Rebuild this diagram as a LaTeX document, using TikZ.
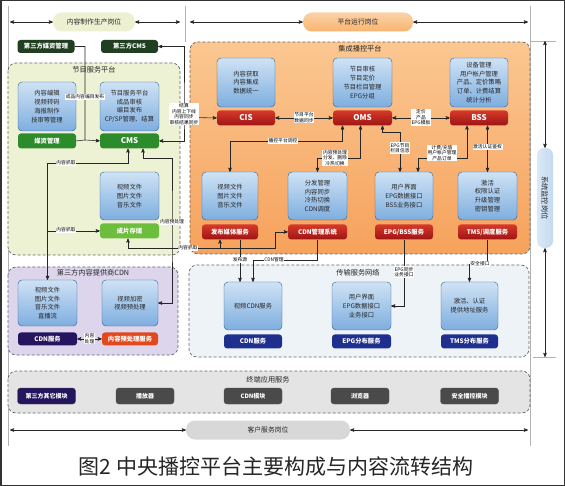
\documentclass[tikz,border=0pt]{standalone}
\usepackage{fontspec}
\setmainfont{Noto Sans CJK SC}
\usepackage{tikz}
\usetikzlibrary{positioning,arrows}

\definecolor{panelline}{HTML}{2F5C8A}
\definecolor{paneltop}{HTML}{CFE2F5}
\definecolor{panelbot}{HTML}{7EAEDF}
\definecolor{greenzone}{HTML}{EEF2D5}
\definecolor{purplezone}{HTML}{DCD5EC}
\definecolor{orangetop}{HTML}{FBC792}
\definecolor{orangebot}{HTML}{F6A25C}
\definecolor{netzone}{HTML}{EEF3F8}
\definecolor{termzone}{HTML}{E4E4E4}
\definecolor{prodpill}{HTML}{EEF0D2}
\definecolor{operpill}{HTML}{F8B46F}
\definecolor{custpill}{HTML}{D8D8D8}
\definecolor{monpill}{HTML}{C2DAF0}
\definecolor{deepgreen}{HTML}{1F3F20}
\definecolor{midgreen}{HTML}{2C8C2C}
\definecolor{litegreen}{HTML}{6DBE3C}
\definecolor{redtop}{HTML}{D63A2A}
\definecolor{redbot}{HTML}{9E1414}
\definecolor{netnavy}{HTML}{1F2F8E}
\definecolor{cdnnavy}{HTML}{24155E}
\definecolor{hotorange}{HTML}{E2481E}
\definecolor{modgray}{HTML}{4A4A4A}

\begin{document}
\begin{tikzpicture}[
% one unit is one pixel of the figure, y runs down
		x=1pt, y=-1pt,
% Box style
		panel/.style={rectangle
							    , rounded corners=4pt
							    , draw=panelline, thin
							    , top color=paneltop, bottom color=panelbot
							    , text=black!85
							    , minimum width=58pt
							    , minimum height=49pt
							    , inner sep=1pt
							    , align=center
							    , font=\fontsize{6.3}{8.8}\selectfont},
		tag/.style={rectangle
							    , rounded corners=3pt
							    , text=white
							    , minimum width=58pt
							    , minimum height=15pt
							    , inner sep=0pt
							    , font=\bfseries\fontsize{6.3}{7}\selectfont},
		redtag/.style={tag
							    , top color=redtop, bottom color=redbot},
		bigtag/.style={font=\bfseries\fontsize{8}{9}\selectfont},
		module/.style={rectangle
							    , rounded corners=3pt
							    , fill=modgray
							    , draw=black!70
							    , text=white
							    , minimum width=58pt
							    , minimum height=16pt
							    , inner sep=0pt
							    , font=\bfseries\fontsize{6}{7}\selectfont},
% Posts, zones and notes
		post/.style={rectangle
							    , rounded corners=9pt
							    , minimum height=19pt
							    , inner sep=0pt
							    , text=black!85
							    , font=\fontsize{6.8}{7}\selectfont},
		zone/.style={draw=black!60
							    , dash pattern=on 3pt off 2pt
							    , line width=0.7pt
							    , rounded corners=8pt},
		zonetitle/.style={inner sep=0pt
							    , text=black!85
							    , font=\fontsize{7.2}{8}\selectfont},
		note/.style={fill=white
							    , inner sep=0.6pt
							    , align=center
							    , text=black
							    , font=\fontsize{4.8}{5.6}\selectfont},
% Lines
		link/.style={draw=black!85, line width=0.55pt, >=stealth'},
		guide/.style={draw=black!30, line width=0.5pt}
	]
\useasboundingbox (0,0) rectangle (565,486);

%% Guides and zones
	\draw [guide] (8,6) -- (8,446);
	\draw [guide] (185,6) -- (185,42);
	\draw [guide] (530,6) -- (530,446);
	\draw [guide] (530,41) -- (556,41);
	\draw [guide] (533,357) -- (556,357);

	\draw [zone, fill=greenzone] (8,63) rectangle (180,255);
	\draw [zone, fill=purplezone] (8,267) rectangle (178,355);
	\draw [zone, top color=orangetop, bottom color=orangebot] (190,42) rectangle (530,254);
	\draw [zone, fill=netzone] (189,265) rectangle (529,357);
	\draw [zone, fill=termzone] (8,371) rectangle (530,413);

	\node [zonetitle] (tprog) at (94,70) {节目服务平台};
	\node [zonetitle] (tthird) at (93,273) {第三方内容提供商CDN};
	\node [zonetitle] (tplat) at (360,49) {集成播控平台};
	\node [zonetitle] (tnet) at (358,273) {传输服务网络};
	\node [zonetitle] (tterm) at (268,380) {终端应用服务};

%% Posts
	\node [post, fill=prodpill, minimum width=82pt] (prod) at (94,22) {内容制作生产岗位};
	\node [post, top color=operpill!60, bottom color=operpill, minimum width=110pt] (oper) at (358,22) {平台运行岗位};
	\node [post, fill=custpill, minimum width=164pt] (cust) at (268,430) {客户服务岗位};
	\node [post, left color=monpill!60, right color=monpill, rotate=-90, minimum width=100pt, minimum height=16pt, rounded corners=7pt, font=\fontsize{7.2}{8}\selectfont] (mon) at (545,198) {系统监控岗位};

	\coordinate (pL) at (10,22);
	\coordinate (pM1) at (180,22);
	\coordinate (pM2) at (190,22);
	\coordinate (pR) at (528,22);
	\coordinate (cL) at (10,430);
	\coordinate (cR) at (528,430);
	\coordinate (mT) at (545,41);
	\coordinate (mB) at (545,357);
	\draw [link, <->] (pL) -- (prod);
	\draw [link, <->] (prod) -- (pM1);
	\draw [link, <->] (pM2) -- (oper);
	\draw [link, <->] (oper) -- (pR);
	\draw [link, <->] (cL) -- (cust);
	\draw [link, <->] (cust) -- (cR);
	\draw [link, <->] (mT) -- (mon);
	\draw [link, <->] (mon) -- (mB);

%% Programme service platform
	\node [tag, fill=deepgreen, minimum width=57pt, minimum height=13pt] (tmedia) at (46,46.5) {第三方媒资管理};
	\node [tag, fill=deepgreen, minimum width=57pt, minimum height=13pt] (tcms) at (129.5,46.5) {第三方CMS};
	\node [panel] (edit) at (47,106.5) {内容编辑\\视频转码\\海报制作\\技审等管理};
	\node [tag, fill=midgreen, below=2pt of edit] (media) {媒资管理};
	\node [panel, minimum width=59pt] (cmsb) at (129.5,106.5) {节目服务平台\\成品审核\\编目发布\\CP/SP管理、结算};
	\node [tag, bigtag, fill=midgreen, minimum width=59pt, below=2pt of cmsb] (cms) {CMS};
	\node [panel, minimum width=59pt, minimum height=48pt] (film) at (129.5,196) {视频文件\\图片文件\\音乐文件};
	\node [tag, fill=litegreen, minimum width=59pt, below=3pt of film] (store) {成片存储};

%% Third party CDN
	\node [panel, minimum width=59pt, minimum height=46pt] (cdnfile) at (47.5,303) {视频文件\\图片文件\\音乐文件\\直播流};
	\node [tag, fill=cdnnavy, minimum width=59pt, minimum height=13pt, below=6pt of cdnfile] (cdnsvc) {CDN服务};
	\node [panel, minimum width=56pt, minimum height=46pt] (crypt) at (130,303) {视频加密\\视频预处理};
	\node [tag, fill=hotorange, minimum width=56pt, minimum height=13pt, below=6pt of crypt] (prep) {内容预处理服务};

%% Integrated platform
	\node [panel] (cisb) at (246,82.5) {内容获取\\内容集成\\数据统一};
	\node [redtag, bigtag, below=3pt of cisb] (cis) {CIS};
	\node [panel, minimum width=59pt] (omsb) at (362.5,82.5) {节目审核\\节目定价\\节目栏目管理\\EPG分组};
	\node [redtag, bigtag, minimum width=59pt, below=3pt of omsb] (oms) {OMS};
	\node [panel] (bssb) at (479,82.5) {设备管理\\用户帐户管理\\产品、定价策略\\订单、计费结算\\统计分析};
	\node [redtag, bigtag, below=3pt of bssb] (bss) {BSS};
	\node [panel, minimum width=56pt, minimum height=48pt] (pubb) at (230,196) {视频文件\\图片文件\\音乐文件};
	\node [redtag, minimum width=56pt, below=4pt of pubb] (pub) {发布媒体服务};
	\node [panel, minimum width=59pt, minimum height=48pt] (cdnmb) at (317.5,196) {分发管理\\内容同步\\冷热切换\\CDN调度};
	\node [redtag, minimum width=59pt, below=4pt of cdnmb] (cdnm) {CDN管理系统};
	\node [panel, minimum height=48pt] (epgb) at (404,196) {用户界面\\EPG数据接口\\BSS业务接口};
	\node [redtag, below=4pt of epgb] (epg) {EPG/BSS服务};
	\node [panel, minimum width=59pt, minimum height=48pt] (tmsb) at (487.5,196) {激活\\权限认证\\升级管理\\密钥管理};
	\node [redtag, minimum width=59pt, below=4pt of tmsb] (tms) {TMS/调度服务};

%% Transport network
	\node [panel, minimum height=48pt] (vcdnb) at (253,306) {视频CDN服务};
	\node [tag, fill=netnavy, minimum height=14pt, below=4pt of vcdnb] (vcdn) {CDN服务};
	\node [panel, minimum width=59pt, minimum height=48pt] (epgdb) at (361.5,306) {用户界面\\EPG数据接口\\业务接口};
	\node [tag, fill=netnavy, minimum width=59pt, minimum height=14pt, below=4pt of epgdb] (epgd) {EPG分布服务};
	\node [panel, minimum width=57pt, minimum height=48pt] (tmsdb) at (469.5,306) {激活、认证\\提供地址服务};
	\node [tag, fill=netnavy, minimum width=57pt, minimum height=14pt, below=4pt of tmsdb] (tmsd) {TMS分布服务};

%% Terminal modules
	\node [module, fill=cdnnavy] (m1) at (46.5,396) {第三方其它模块};
	\node [module] (m2) at (145,396) {播放器};
	\node [module] (m3) at (253,396) {CDN模块};
	\node [module] (m4) at (360,396) {浏览器};
	\node [module] (m5) at (469.5,396) {安全播控模块};

%% Connectors
	\coordinate (j1) at (184,117.5);
	\coordinate (j2) at (85,140);
	\coordinate (j3) at (47.5,163);
	\coordinate (j4) at (172,222);
	\coordinate (j5) at (220,248);

	\draw [link, ->] (tmedia.east) -| (j2) -- (cms.west);
	\draw [link] (media.east) -- (j2);
	\draw [link, <->] (tcms.east) -| (j1) |- (cms.east);
	\draw [link, ->] (j1) -- (cis.west);
	\draw [link, <->] (cdnfile.north) -- (j3) -| ([xshift=-1.5pt]cms.south);
	\draw [link, ->] (store.west -| j3) -- (store.west);
	\draw [link, <->] ([xshift=13.5pt]cms.south) -- ++(0,10) -| (j4) |- (crypt.east);
	\draw [link, <->] ([xshift=-1.5pt]store.south) |- (j5) -| ([xshift=-10pt]pub.south);
	\draw [link, ->] (j5) -| ([xshift=-13pt]cdnm.west) -- (cdnm.west);
	\draw [link, <->] (cdnsvc) -- (prep);

	\draw [link, <->] (cis) -- (oms);
	\draw [link, <->] (oms) -- (bss);
	\draw [link, <->] ([xshift=-20pt]oms.south) -- ++(0,16) -| (pubb.north);
	\draw [link, <->] ([xshift=-2pt]oms.south) -- ++(0,33) -| (cdnmb.north);
	\draw [link, <->] ([xshift=20pt]oms.south) -- ++(0,7) -| ([xshift=-4pt]epgb.north);
	\draw [link, <->] ([xshift=-12pt]bss.south) -- ++(0,33) -| ([xshift=14pt]epgb.north);
	\draw [link, <->] ([xshift=8.5pt]bss.south) -- (tmsb.north);

	\draw [link, ->] ([xshift=10pt]pub.south) -- ([xshift=-13pt]vcdnb.north);
	\draw [link, ->] (cdnm.south) -- ++(0,21) -| (vcdnb.north);
	\draw [link, ->] (epg.south) |- (epgdb.east);
	\draw [link, ->] (tms.south) -- ++(0,25) -| (tmsdb.north);

%% Notes on the connectors
	\node [note] (n1) at (85,97) {成品内容编目发布};
	\node [note] (n2) at (184,114) {结算\\内容上下线\\内容同步\\审核结果同步};
	\node [note] (n3) at (66,163) {内容抓取};
	\node [note] (n4) at (66,230) {内容抓取};
	\node [note] (n5) at (172,222) {内容预处理};
	\node [note] (n6) at (188,248) {内容抓取};
	\node [note] (n7) at (89.5,338.5) {内容\\处理};
	\node [note] (n8) at (304,117.5) {节目平台\\数据同步};
	\node [note] (n9) at (421,117.5) {定价\\产品\\EPG模板};
	\node [note] (n10) at (283,141) {播控平台调控};
	\node [note] (n11) at (335,158) {内容预处理\\分发、删除\\冷热切换};
	\node [note] (n12) at (400,148) {EPG节目\\栏目信息};
	\node [note] (n13) at (442,153) {计费/充值\\用户帐户管理\\产品订单};
	\node [note] (n14) at (487.5,147) {激活认证鉴权};
	\node [note] (n15) at (240,260) {发布源};
	\node [note] (n16) at (274,260) {CDN管理};
	\node [note] (n17) at (404,272) {EPG同步\\业务接口};
	\node [note] (n18) at (480,264) {安全接口};

%% Caption and frame
	\node [inner sep=0pt, text=black!85, font=\fontsize{21}{21}\selectfont] (cap) at (276,467) {图2\ 中央播控平台主要构成与内容流转结构};
	\draw [line width=1.5pt, black!80] (0.75,0.75) rectangle (564.25,485.25);
\end{tikzpicture}
\end{document}
